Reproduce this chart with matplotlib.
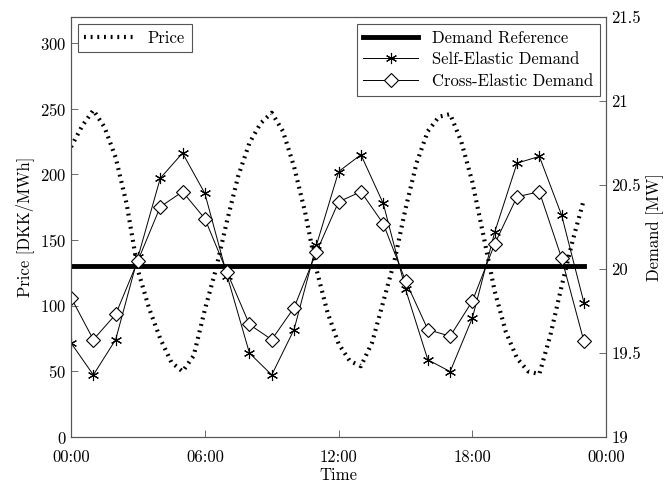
import matplotlib
matplotlib.use("Agg")
import matplotlib.pyplot as plt
import numpy as np

plt.rcParams['font.family'] = 'serif'
plt.rcParams['font.serif'] = ['cmr10', 'DejaVu Serif']
plt.rcParams['axes.formatter.use_mathtext'] = True
plt.rcParams['font.size'] = 12

# price, read every half hour
price_hours = np.arange(0, 23.5, 0.5)
price = [221, 237, 249, 236, 213, 177, 127, 98, 75, 57, 50, 62, 97, 128, 165, 199,
         224, 239, 247, 233, 206, 171, 128, 95, 71, 58, 54, 72, 103, 134, 174, 209,
         233, 244, 246, 225, 194, 153, 111, 80, 60, 50, 48, 78, 115, 150, 181]

# demand, hourly
hours = np.arange(24)
demand_ref = [20.02] * 24
self_elastic = [19.56, 19.37, 19.58, 20.07, 20.54, 20.69, 20.45, 19.96, 19.50, 19.37,
                19.64, 20.14, 20.58, 20.68, 20.39, 19.88, 19.46, 19.39, 19.71, 20.22,
                20.63, 20.67, 20.32, 19.80]
cross_elastic = [19.83, 19.58, 19.73, 20.05, 20.37, 20.46, 20.30, 19.98, 19.67, 19.58,
                 19.77, 20.10, 20.40, 20.46, 20.27, 19.93, 19.64, 19.60, 19.81, 20.15,
                 20.43, 20.46, 20.065, 19.57]

xticks = [0, 6, 12, 18, 24]
xticklabels = ["00:00", "06:00", "12:00", "18:00", "00:00"]

fig = plt.figure(figsize=(6.64, 4.83), dpi=100)
ax1 = fig.add_axes([0.107, 0.095, 0.806, 0.87])
ax2 = ax1.twinx()

p, = ax1.plot(price_hours, price, color='black', lw=3, ls=(0, (0.45, 1.15)),
              dash_capstyle='butt', label='Price')
ax1.set_xlim(0, 24)
ax1.set_ylim(0, 320)
ax1.set_yticks(range(0, 301, 50))
ax1.set_xticks(xticks)
ax1.set_xticklabels(xticklabels)
ax1.set_xlabel("Time", labelpad=2)
ax1.set_ylabel("Price [DKK/MWh]")

r, = ax2.plot(hours, demand_ref, color='black', lw=3.5, label='Demand Reference')
s, = ax2.plot(hours, self_elastic, color='black', lw=0.7, marker=(6, 2, 0), ms=8,
              mew=0.8, label='Self-Elastic Demand')
c, = ax2.plot(hours, cross_elastic, color='black', lw=0.7, marker='D', ms=7.5,
              mfc='white', mew=0.8, label='Cross-Elastic Demand')
ax2.set_ylim(19, 21.5)
ax2.set_yticks([19, 19.5, 20, 20.5, 21, 21.5])
ax2.set_yticklabels(["19", "19.5", "20", "20.5", "21", "21.5"])
ax2.set_ylabel("Demand [MW]")

for ax in (ax1, ax2):
    ax.tick_params(direction='in', length=5, width=0.6, color='#555555')
    for sp in ax.spines.values():
        sp.set_color('#555555')
        sp.set_linewidth(0.8)
ax1.tick_params(axis='x', pad=9)

leg1 = ax1.legend(handles=[p], loc='upper left', fancybox=False, edgecolor='#555555',
                  handlelength=3.0, framealpha=1, borderaxespad=0.4, fontsize=12)
leg1.get_frame().set_linewidth(0.8)
leg2 = ax2.legend(handles=[r, s, c], loc='upper right', fancybox=False, edgecolor='#555555',
                  handlelength=3.3, framealpha=1, borderaxespad=0.4, labelspacing=0.38,
                  fontsize=12)
leg2.get_frame().set_linewidth(0.8)

fig.savefig("out.png", dpi=100)
